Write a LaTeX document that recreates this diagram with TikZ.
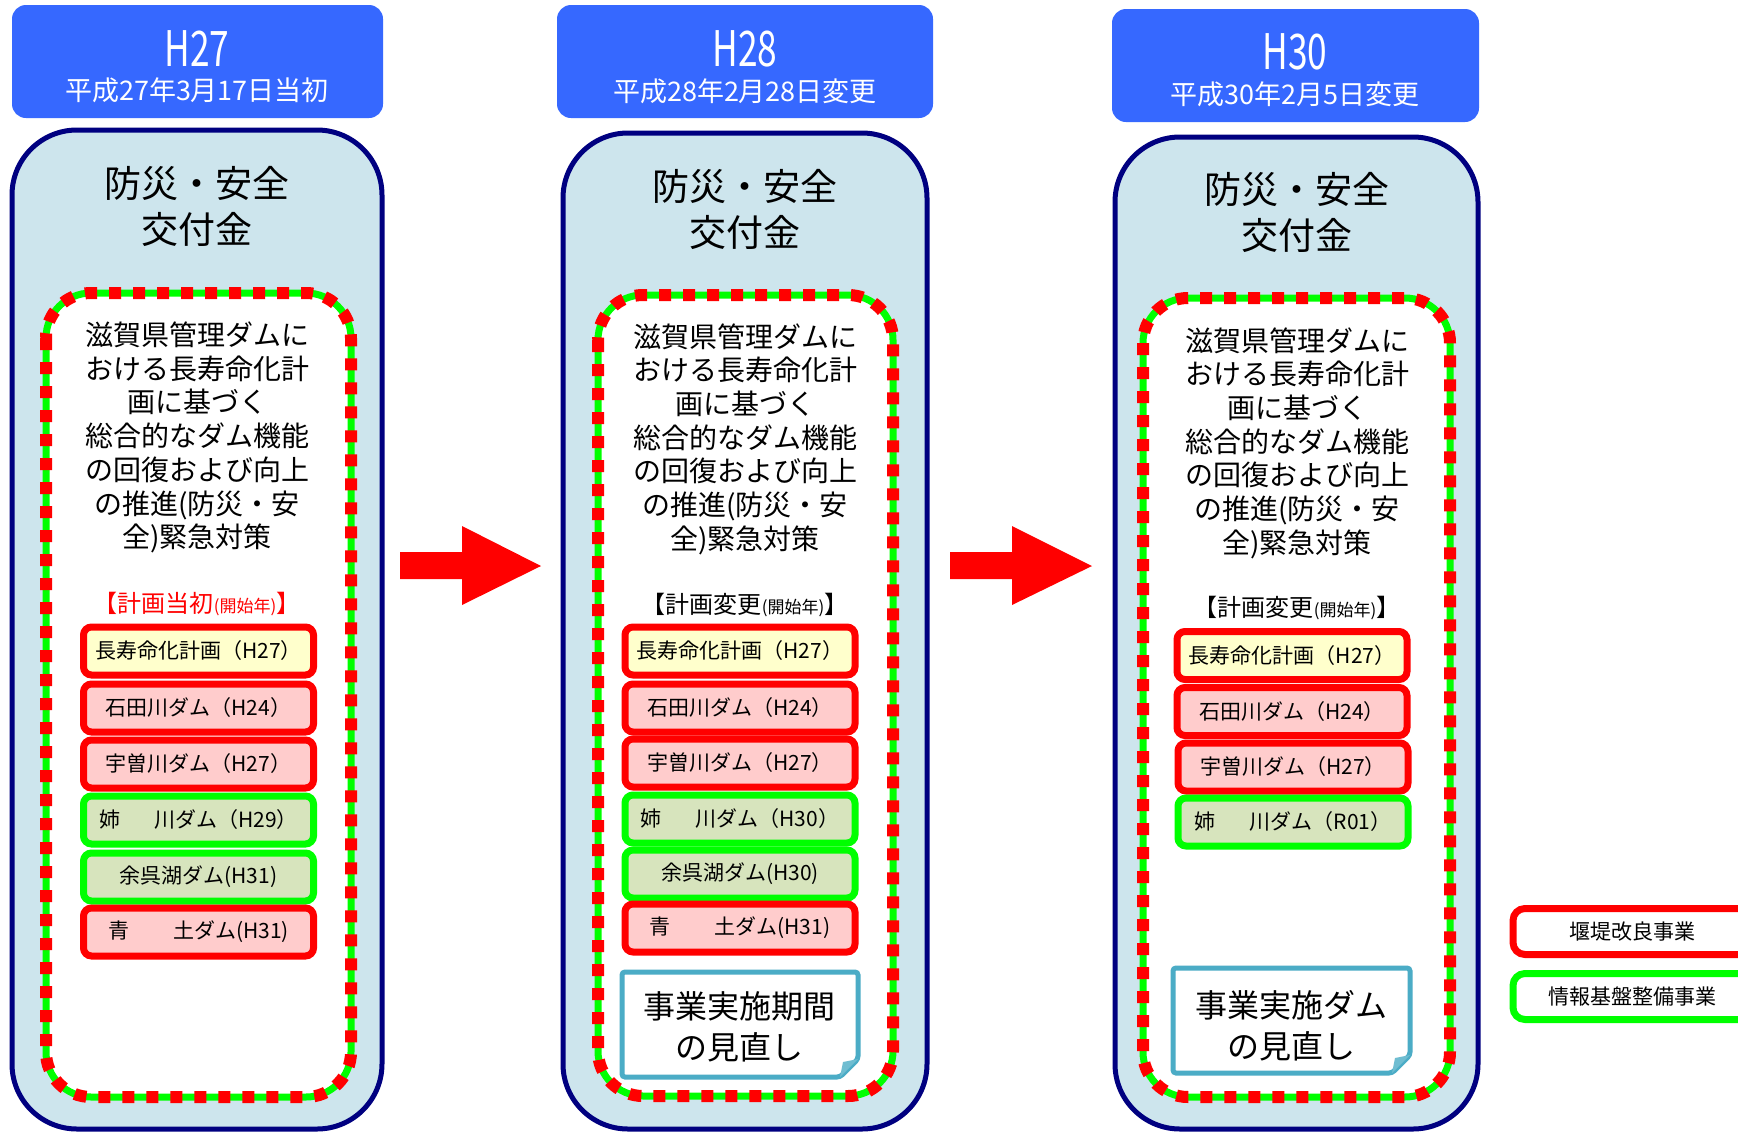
\documentclass[tikz,border=0pt]{standalone}
\usepackage{fontspec}
\setmainfont{Noto Sans CJK JP}
\definecolor{hdrblue}{RGB}{54,104,255}
\definecolor{panelfill}{RGB}{205,229,237}
\definecolor{navyb}{RGB}{0,0,128}
\definecolor{itemred}{RGB}{255,0,0}
\definecolor{itemgreen}{RGB}{0,255,0}
\definecolor{yellowfill}{RGB}{255,255,204}
\definecolor{pinkfill}{RGB}{255,204,204}
\definecolor{greenfill}{RGB}{215,228,189}
\definecolor{notec}{RGB}{75,172,198}
\tikzset{
  hdr/.style={fill=hdrblue, rounded corners=14pt},
  hdrbig/.style={text=white, font=\fontsize{49}{49}\selectfont, inner sep=0pt},
  hdrsmall/.style={text=white, font=\fontsize{27}{27}\selectfont, inner sep=0pt},
  panel/.style={draw=navyb, line width=5pt, fill=panelfill, rounded corners=65pt},
  innerfill/.style={fill=white, rounded corners=45pt},
  innergreen/.style={draw=itemgreen, line width=7pt, rounded corners=45pt},
  innerred/.style={draw=itemred, line width=12pt, dash pattern=on 12pt off 12pt, rounded corners=45pt},
  titletext/.style={align=center, font=\fontsize{37}{46}\selectfont, inner sep=0pt},
  longtext/.style={align=center, font=\fontsize{28}{33.7}\selectfont, inner sep=0pt},
  plantext/.style={inner sep=0pt},
  itembox/.style={draw, line width=7pt, rounded corners=8pt, minimum width=230pt, minimum height=48pt, inner sep=0pt, font=\fontsize{21}{21}\selectfont},
  redbox/.style={itembox, draw=itemred, fill=pinkfill},
  yelbox/.style={itembox, draw=itemred, fill=yellowfill},
  grnbox/.style={itembox, draw=itemgreen, fill=greenfill},
  notebox/.style={draw=notec, line width=5pt, fill=white, rounded corners=3pt},
  notetext/.style={align=center, font=\fontsize{32}{41}\selectfont, inner sep=0pt},
  bigarrow/.style={fill=itemred},
  legbox/.style={draw, line width=7pt, rounded corners=12pt, fill=white, minimum width=238pt, minimum height=46pt, inner sep=0pt, font=\fontsize{21}{21}\selectfont}
}
\newcommand{\planlabel}[1]{{\fontsize{24}{24}\selectfont 【#1}{\fontsize{17}{17}\selectfont (開始年)}{\fontsize{24}{24}\selectfont 】}}
\begin{document}
\begin{tikzpicture}[x=1pt,y=-1pt]
\path[use as bounding box] (0,0) rectangle (1738,1133);
\clip (0,0) rectangle (1738,1133);
\fill[white] (0,0) rectangle (1738,1133);

% ---------------- Panel 1 ----------------
\fill[hdr] (12,5) rectangle (383,118);
\node[hdrbig] (h1) at (197,49) {\scalebox{0.72}[1]{H27}};
\node[hdrsmall] (d1) at (197,90) {平成27年3月17日当初};
\draw[panel] (12,130) rectangle (382,1129);
\node[titletext] (t1) at (197,206) {防災・安全\\交付金};
\fill[innerfill] (46,293) rectangle (351,1097);
\draw[innergreen] (46,293) rectangle (351,1097);
\draw[innerred] (46,293) rectangle (351,1097);
\node[longtext] (l1) at (197,437.5) {滋賀県管理ダムに\\おける長寿命化計\\画に基づく\\総合的なダム機能\\の回復および向上\\の推進(防災・安\\全)緊急対策};
\node[plantext, text=itemred] (p1) at (197,604) {\planlabel{計画当初}};
\node[yelbox] (a1) at (198.5,651) {長寿命化計画（H27）};
\node[redbox] (b1) at (198.5,708) {石田川ダム（H24）};
\node[redbox] (c1) at (198.5,764) {宇曽川ダム（H27）};
\node[grnbox] (e1) at (198.5,820) {姉\hspace{34pt}川ダム（H29）};
\node[grnbox] (f1) at (198.5,877) {余呉湖ダム(H31)};
\node[redbox] (g1) at (198.5,932) {青\hspace{44pt}土ダム(H31)};

% ---------------- Arrow 1 ----------------
\fill[bigarrow] (400,552) -- (462,552) -- (462,526) -- (541,566) -- (462,605) -- (462,579) -- (400,579) -- cycle;

% ---------------- Panel 2 ----------------
\fill[hdr] (557,5) rectangle (933,118);
\node[hdrbig] (h2) at (745,49) {\scalebox{0.72}[1]{H28}};
\node[hdrsmall] (d2) at (745,91) {平成28年2月28日変更};
\draw[panel] (563,133) rectangle (927,1129);
\node[titletext] (t2) at (745,209) {防災・安全\\交付金};
\fill[innerfill] (598,295) rectangle (893,1096);
\draw[innergreen] (598,295) rectangle (893,1096);
\draw[innerred] (598,295) rectangle (893,1096);
\node[longtext] (l2) at (745,439) {滋賀県管理ダムに\\おける長寿命化計\\画に基づく\\総合的なダム機能\\の回復および向上\\の推進(防災・安\\全)緊急対策};
\node[plantext] (p2) at (745,605) {\planlabel{計画変更}};
\node[yelbox] (a2) at (740,651) {長寿命化計画（H27）};
\node[redbox] (b2) at (740,708) {石田川ダム（H24）};
\node[redbox] (c2) at (740,763) {宇曽川ダム（H27）};
\node[grnbox] (e2) at (740,819) {姉\hspace{34pt}川ダム（H30）};
\node[grnbox] (f2) at (740,874) {余呉湖ダム(H30)};
\node[redbox] (g2) at (740,928) {青\hspace{44pt}土ダム(H31)};
\draw[notebox] (622,972) -- (858,972) -- (858,1059) -- (840,1077) -- (622,1077) -- cycle;
\fill[notec!80] (858,1059) -- (840,1077) -- (843,1062) -- cycle;
\node[notetext] (n2) at (739,1027) {事業実施期間\\の見直し};

% ---------------- Arrow 2 ----------------
\fill[bigarrow] (950,552) -- (1012,552) -- (1012,526) -- (1092,566) -- (1012,605) -- (1012,579) -- (950,579) -- cycle;

% ---------------- Panel 3 ----------------
\fill[hdr] (1112,9) rectangle (1479,122);
\node[hdrbig] (h3) at (1295,52) {\scalebox{0.72}[1]{H30}};
\node[hdrsmall] (d3) at (1295,94) {平成30年2月5日変更};
\draw[panel] (1115,137) rectangle (1478,1129);
\node[titletext] (t3) at (1297,212) {防災・安全\\交付金};
\fill[innerfill] (1143,298) rectangle (1450,1097);
\draw[innergreen] (1143,298) rectangle (1450,1097);
\draw[innerred] (1143,298) rectangle (1450,1097);
\node[longtext] (l3) at (1297,443) {滋賀県管理ダムに\\おける長寿命化計\\画に基づく\\総合的なダム機能\\の回復および向上\\の推進(防災・安\\全)緊急対策};
\node[plantext] (p3) at (1297,608) {\planlabel{計画変更}};
\node[yelbox] (a3) at (1292,655.5) {長寿命化計画（H27）};
\node[redbox] (b3) at (1292,711.5) {石田川ダム（H24）};
\node[redbox] (c3) at (1293,767) {宇曽川ダム（H27）};
\node[grnbox] (e3) at (1293,822) {姉\hspace{34pt}川ダム（R01）};
\draw[notebox] (1173,968) -- (1410,968) -- (1410,1055) -- (1392,1073) -- (1173,1073) -- cycle;
\fill[notec!80] (1410,1055) -- (1392,1073) -- (1395,1058) -- cycle;
\node[notetext] (n3) at (1291,1026) {事業実施ダム\\の見直し};

% ---------------- Legend ----------------
\node[legbox, draw=itemred] (k1) at (1632,931.5) {堰堤改良事業};
\node[legbox, draw=itemgreen] (k2) at (1632,996.5) {情報基盤整備事業};
\end{tikzpicture}
\end{document}
